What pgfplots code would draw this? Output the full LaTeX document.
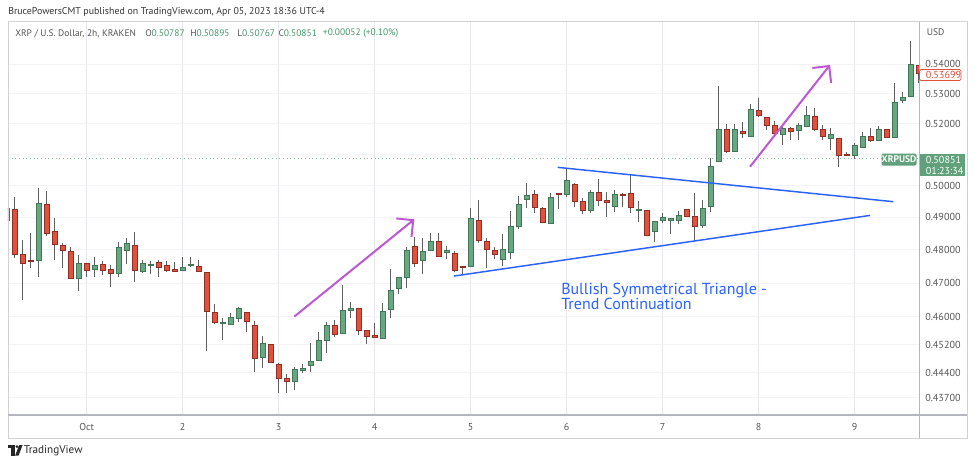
\documentclass[border=0pt]{standalone}
\usepackage{pgfplots}
\pgfplotsset{compat=1.18}
\usepackage{pgfplotstable}
\usepackage{fontspec}
\setmainfont{PT Sans}
\usetikzlibrary{arrows.meta}

\definecolor{upfill}{RGB}{104,167,129}
\definecolor{upline}{RGB}{62,120,86}
\definecolor{dnfill}{RGB}{222,82,62}
\definecolor{dnline}{RGB}{150,45,35}
\definecolor{wickc}{RGB}{95,95,95}
\definecolor{tvblue}{RGB}{41,98,255}
\definecolor{tvpurple}{RGB}{188,88,212}
\definecolor{gridc}{RGB}{230,231,236}
\definecolor{axc}{RGB}{180,182,190}
\definecolor{txt}{RGB}{85,85,85}
\definecolor{tvgreen}{RGB}{96,160,122}
\definecolor{valgreen}{RGB}{70,150,105}

\pgfplotstableread{
i o h l c
-10 0.4890 0.4939 0.4886 0.4928
-9 0.4926 0.4963 0.4774 0.4786
-8 0.4786 0.4830 0.4649 0.4759
-7 0.4768 0.4851 0.4746 0.4764
-6 0.4768 0.4991 0.4719 0.4943
-5 0.4941 0.4983 0.4842 0.4851
-4 0.4858 0.4897 0.4769 0.4817
-3 0.4815 0.4820 0.4744 0.4797
-2 0.4796 0.4810 0.4712 0.4714
-1 0.4714 0.4783 0.4677 0.4758
0 0.4759 0.4761 0.4719 0.4737
1 0.4741 0.4777 0.4719 0.4754
2 0.4757 0.4766 0.4724 0.4737
3 0.4741 0.4754 0.4689 0.4728
4 0.4729 0.4825 0.4717 0.4808
5 0.4797 0.4835 0.4757 0.4820
6 0.4815 0.4856 0.4704 0.4739
7 0.4734 0.4769 0.4729 0.4758
8 0.4752 0.4767 0.4726 0.4755
9 0.4762 0.4769 0.4719 0.4748
10 0.4752 0.4767 0.4734 0.4739
11 0.4742 0.4764 0.4734 0.4735
12 0.4739 0.4777 0.4738 0.4747
13 0.4754 0.4777 0.4749 0.4756
14 0.4750 0.4769 0.4733 0.4734
15 0.4733 0.4734 0.4502 0.4616
16 0.4612 0.4637 0.4579 0.4583
17 0.4581 0.4596 0.4533 0.4584
18 0.4578 0.4612 0.4577 0.4600
19 0.4596 0.4630 0.4586 0.4625
20 0.4613 0.4615 0.4557 0.4588
21 0.4575 0.4587 0.4441 0.4482
22 0.4483 0.4544 0.4452 0.4524
23 0.4522 0.4523 0.4468 0.4469
24 0.4464 0.4468 0.4382 0.4423
25 0.4423 0.4435 0.4384 0.4416
26 0.4416 0.4457 0.4391 0.4449
27 0.4448 0.4464 0.4438 0.4452
28 0.4462 0.4525 0.4443 0.4471
29 0.4476 0.4555 0.4474 0.4532
30 0.4531 0.4586 0.4495 0.4575
31 0.4575 0.4591 0.4542 0.4550
32 0.4553 0.4693 0.4551 0.4619
33 0.4618 0.4643 0.4596 0.4626
34 0.4625 0.4627 0.4547 0.4562
35 0.4561 0.4563 0.4521 0.4545
36 0.4548 0.4581 0.4540 0.4541
37 0.4539 0.4640 0.4538 0.4617
38 0.4621 0.4742 0.4596 0.4679
39 0.4684 0.4718 0.4667 0.4717
40 0.4716 0.4810 0.4684 0.4799
41 0.4812 0.4840 0.4749 0.4759
42 0.4767 0.4835 0.4726 0.4794
43 0.4800 0.4851 0.4797 0.4825
44 0.4826 0.4851 0.4778 0.4780
45 0.4791 0.4812 0.4771 0.4800
46 0.4790 0.4796 0.4734 0.4739
47 0.4751 0.4752 0.4724 0.4746
48 0.4749 0.4928 0.4748 0.4897
49 0.4892 0.4954 0.4822 0.4830
50 0.4825 0.4835 0.4744 0.4802
51 0.4800 0.4810 0.4771 0.4787
52 0.4771 0.4848 0.4751 0.4803
53 0.4791 0.4921 0.4771 0.4871
54 0.4871 0.4967 0.4863 0.4942
55 0.4957 0.5009 0.4928 0.4968
56 0.4972 0.4986 0.4913 0.4931
57 0.4928 0.4932 0.4881 0.4883
58 0.4882 0.4975 0.4881 0.4961
59 0.4975 0.4976 0.4925 0.4972
60 0.4973 0.5052 0.4965 0.5015
61 0.5005 0.5007 0.4931 0.4949
62 0.4951 0.4961 0.4910 0.4923
63 0.4921 0.4986 0.4914 0.4980
64 0.4977 0.5022 0.4936 0.4954
65 0.4952 0.4980 0.4902 0.4948
66 0.4933 0.4986 0.4918 0.4973
67 0.4972 0.4975 0.4931 0.4968
68 0.4975 0.5034 0.4914 0.4931
69 0.4921 0.4952 0.4887 0.4925
70 0.4923 0.4924 0.4842 0.4845
71 0.4856 0.4890 0.4823 0.4887
72 0.4892 0.4915 0.4883 0.4900
73 0.4892 0.4898 0.4848 0.4897
74 0.4892 0.4921 0.4879 0.4906
75 0.4925 0.4926 0.4901 0.4902
76 0.4902 0.4975 0.4828 0.4871
77 0.4876 0.4954 0.4866 0.4928
78 0.4933 0.5087 0.4918 0.5062
79 0.5076 0.5326 0.5075 0.5182
80 0.5182 0.5199 0.5105 0.5109
81 0.5111 0.5199 0.5108 0.5180
82 0.5174 0.5207 0.5152 0.5169
83 0.5157 0.5265 0.5156 0.5248
84 0.5246 0.5285 0.5221 0.5227
85 0.5220 0.5221 0.5180 0.5194
86 0.5194 0.5210 0.5166 0.5169
87 0.5166 0.5190 0.5130 0.5185
88 0.5185 0.5190 0.5147 0.5176
89 0.5177 0.5201 0.5147 0.5196
90 0.5193 0.5259 0.5192 0.5229
91 0.5226 0.5251 0.5176 0.5182
92 0.5182 0.5196 0.5147 0.5157
93 0.5152 0.5185 0.5114 0.5166
94 0.5152 0.5153 0.5058 0.5098
95 0.5100 0.5109 0.5095 0.5096
96 0.5096 0.5136 0.5085 0.5130
97 0.5123 0.5174 0.5122 0.5160
98 0.5160 0.5185 0.5141 0.5144
99 0.5144 0.5193 0.5143 0.5180
100 0.5183 0.5184 0.5153 0.5154
101 0.5154 0.5337 0.5153 0.5271
102 0.5279 0.5307 0.5268 0.5288
103 0.5290 0.5482 0.5289 0.5400
104 0.5395 0.5396 0.5335 0.53699
}\candles

\begin{document}
\begin{tikzpicture}
\useasboundingbox (0,0) rectangle (731.25pt,-348pt);
\begin{axis}[
  at={(6pt,-311.25pt)}, anchor=south west,
  scale only axis, width=683.25pt, height=294.975pt,
  xmin=-0.8198, xmax=8.6698,
  ymode=log, ymin=0.43223, ymax=0.5548,
  axis line style={draw=none},
  tick style={draw=none},
  xtick={0,1,2,3,4,5,6,7,8},
  xticklabels={Oct,2,3,4,5,6,7,8,9},
  ytick={0.437,0.444,0.452,0.46,0.47,0.48,0.49,0.50,0.51,0.52,0.53,0.54},
  yticklabels={0.43700,0.44400,0.45200,0.46000,0.47000,0.48000,0.49000,0.50000,{},0.52000,0.53000,0.54000},
  yticklabel pos=right,
  xmajorgrids, ymajorgrids,
  x grid style={gridc, line width=0.75pt},
  y grid style={gridc!45, line width=0.75pt},
  xticklabel style={font=\fontsize{7.5}{9}\selectfont, text=txt, anchor=north, inner sep=0pt, yshift=-6pt},
  yticklabel style={font=\fontsize{7.6}{9}\selectfont, text=txt, anchor=west, inner sep=0pt, xshift=4.5pt},
]
\addplot[valgreen!60, dotted, line width=0.75pt, forget plot] coordinates {(-0.8198,0.50851) (8.6698,0.50851)};

\pgfplotstablegetrowsof{\candles}
\pgfmathtruncatemacro{\lastrow}{\pgfplotsretval-1}
\pgfplotsforeachungrouped \rr in {0,...,\lastrow}{%
  \pgfplotstablegetelem{\rr}{i}\of\candles\let\cI\pgfplotsretval
  \pgfplotstablegetelem{\rr}{o}\of\candles\let\cO\pgfplotsretval
  \pgfplotstablegetelem{\rr}{h}\of\candles\let\cH\pgfplotsretval
  \pgfplotstablegetelem{\rr}{l}\of\candles\let\cL\pgfplotsretval
  \pgfplotstablegetelem{\rr}{c}\of\candles\let\cC\pgfplotsretval
  \pgfmathsetmacro{\cX}{\cI/12}%
  \pgfmathsetmacro{\cXa}{\cX-0.029}%
  \pgfmathsetmacro{\cXb}{\cX+0.029}%
  \pgfmathtruncatemacro{\cUp}{\cC>=\cO}%
  \ifnum\cUp=1 \def\fc{upfill}\def\dc{upline}\else\def\fc{dnfill}\def\dc{dnline}\fi
  \edef\candle{%
    \noexpand\addplot[wickc, line width=0.75pt, forget plot] coordinates {(\cX,\cL) (\cX,\cH)};
    \noexpand\addplot[fill=\fc, draw=\dc, line width=0.5pt, forget plot] coordinates {(\cXa,\cO) (\cXb,\cO) (\cXb,\cC) (\cXa,\cC)} -- cycle;
  }%
  \candle
}

% symmetrical triangle
\addplot[tvblue, line width=1.1pt, forget plot] coordinates {(4.9063,0.5058) (8.4021,0.4949)};
\addplot[tvblue, line width=1.1pt, forget plot] coordinates {(3.8260,0.4721) (8.1594,0.4906)};
% trend arrows
\addplot[tvpurple, line width=1.5pt, -{Straight Barb[length=9pt,width=18pt]}, forget plot] coordinates {(2.1625,0.4601) (3.4125,0.4894)};
\addplot[tvpurple, line width=1.5pt, -{Straight Barb[length=9pt,width=18pt]}, forget plot] coordinates {(6.9094,0.5060) (7.7427,0.5398)};
\end{axis}

\begin{scope}[x=0.75pt,y=-0.75pt]
  % panel frame and separators
  \draw[gridc!80!gray, line width=0.6pt] (8,21.5) rectangle (967,438);
  \draw[axc, line width=1.5pt] (8,415) -- (967,415);
  \draw[axc, line width=0.75pt] (919,21.5) -- (919,438);
  % header
  \node[anchor=west, inner sep=0pt, text=black!80, font=\fontsize{7.4}{9}\selectfont] at (8,12.5) {BrucePowersCMT published on TradingView.com, Apr 05, 2023 18:36 UTC-4};
  % legend line
  \begin{scope}[every node/.style={anchor=west, inner sep=0pt, font=\fontsize{7.1}{9}\selectfont}]
    \node[text=txt] at (15,33.5) {XRP / U.S. Dollar, 2h, KRAKEN};
    \node[text=txt] at (145,33.5) {O\textcolor{valgreen}{0.50787}};
    \node[text=txt] at (190,33.5) {H\textcolor{valgreen}{0.50895}};
    \node[text=txt] at (237,33.5) {L\textcolor{valgreen}{0.50767}};
    \node[text=txt] at (278.3,33.5) {C\textcolor{valgreen}{0.50851}};
    \node[text=valgreen] at (322.7,33.5) {+0.00052 (+0.10\%)};
  \end{scope}
  % price scale extras
  \node[anchor=west, inner sep=0pt, text=txt, font=\fontsize{7.2}{9}\selectfont] at (926.5,32) {USD};
  \draw[dnfill, fill=white, line width=0.6pt, rounded corners=1pt] (919.5,69.5) rectangle (961,80.5);
  \node[anchor=west, inner sep=0pt, text=dnfill, font=\fontsize{7.6}{9}\selectfont] at (925.5,75) {0.53699};
  \fill[tvgreen] (919.5,154) rectangle (964.5,175.5);
  \node[anchor=west, inner sep=0pt, text=white, font=\fontsize{7.6}{9}\selectfont] at (925.5,159.5) {0.50851};
  \node[anchor=west, inner sep=0pt, text=white, font=\fontsize{7.6}{9}\selectfont] at (925.5,170.5) {01:23:34};
  \fill[tvgreen, rounded corners=1pt] (881.5,153.5) rectangle (916.5,165.5);
  \node[inner sep=0pt, text=white, font=\bfseries\fontsize{7.2}{9}\selectfont] at (899,159.5) {XRPUSD};
  % annotation
  \node[anchor=base west, inner sep=0pt, text=tvblue, font=\fontsize{12}{12}\selectfont] at (561,294) {Bullish Symmetrical Triangle -};
  \node[anchor=base west, inner sep=0pt, text=tvblue, font=\fontsize{12}{12}\selectfont] at (561,309.5) {Trend Continuation};
  % TradingView logo
  \fill[black!85] (8,445) rectangle (14.5,448.2);
  \fill[black!85] (11.3,445) rectangle (14.5,455.5);
  \fill[black!85] (17,446.6) circle (1.6);
  \fill[black!85] (19.2,445) -- (22.6,445) -- (18.6,455.5) -- (15.2,455.5) -- cycle;
  \node[anchor=west, inner sep=0pt, text=black!85, font=\fontsize{8.4}{10}\selectfont] at (23.5,450.5) {TradingView};
\end{scope}
\end{tikzpicture}
\end{document}
